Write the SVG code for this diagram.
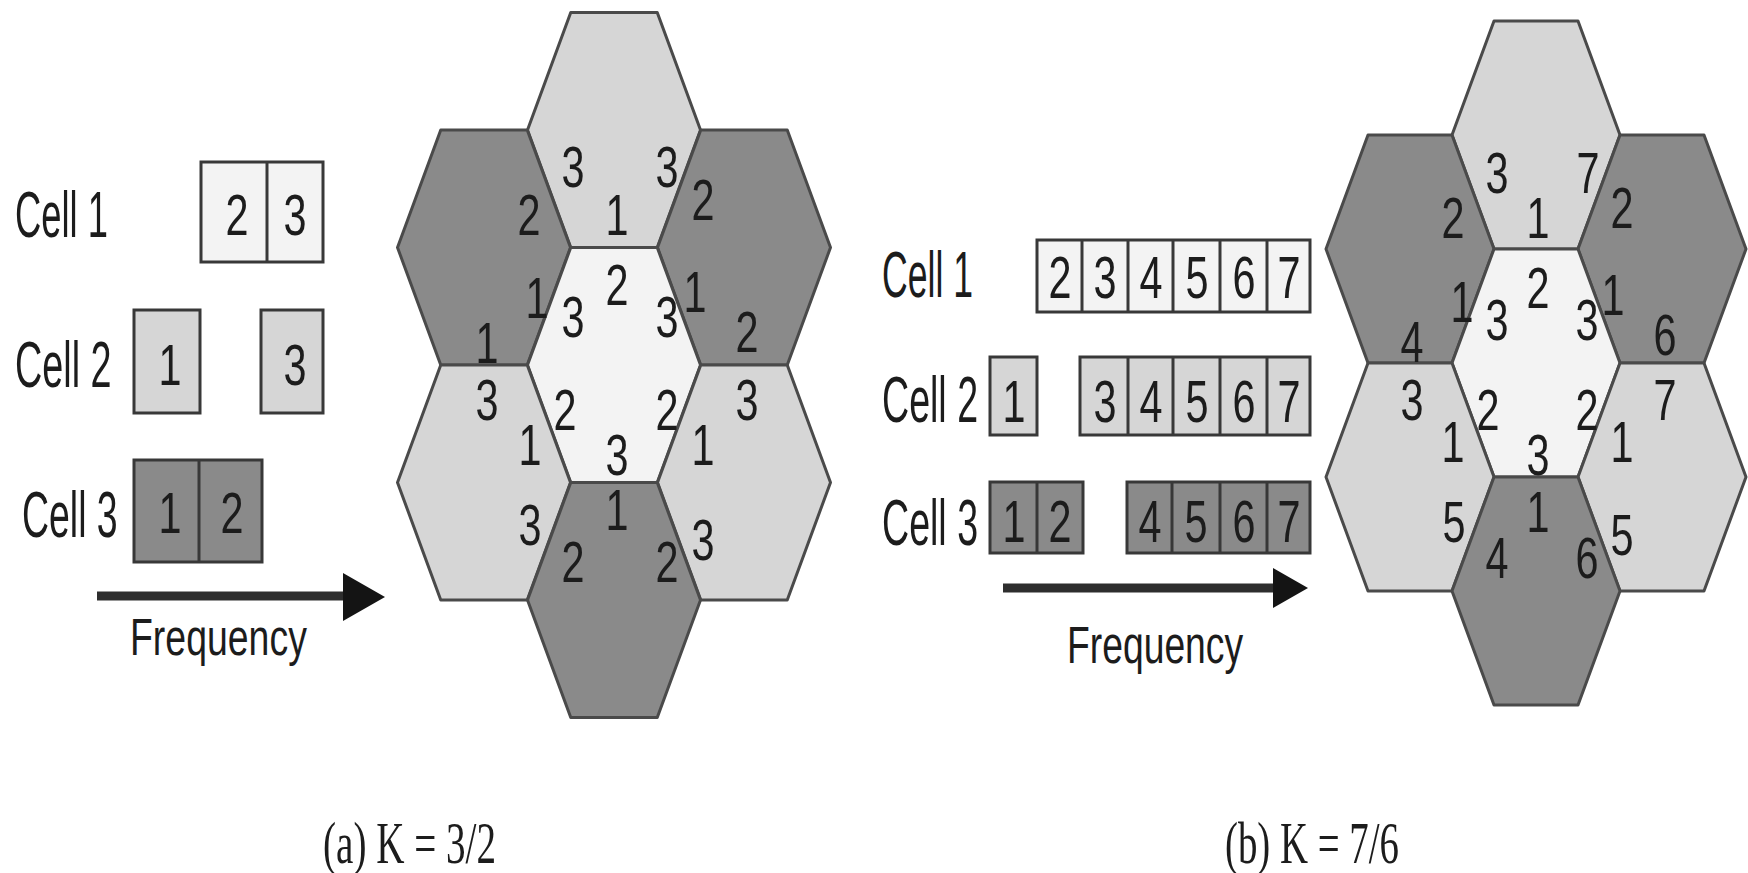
<svg xmlns="http://www.w3.org/2000/svg" xmlns:xlink="http://www.w3.org/1999/xlink" width="1748" height="873" viewBox="0 0 1748 873">
<style>
.t{font-family:"Liberation Sans",Arial,sans-serif;fill:#1c1c1c}
.d{font-size:58px;text-anchor:middle}
.bd{font-size:60px;text-anchor:middle}
.cl{font-size:64px}
.fq{font-size:52px}
.cap{font-family:"Liberation Serif","Times New Roman",serif;font-size:60px;fill:#1c1c1c}
.hx{stroke:#4a4a4a;stroke-width:3;stroke-linejoin:round}
.bx{stroke:#383838;stroke-width:3}
.c1{fill:#f3f3f3}
.c2{fill:#d6d6d6}
.c3{fill:#8a8a8a}
.ar{stroke:#2e2e2e;stroke-width:9}
.ah{fill:#141414}
</style>
<defs>
<polygon id="hexA" points="-86.5,0 -43.25,-117.5 43.25,-117.5 86.5,0 43.25,117.5 -43.25,117.5"/>
<polygon id="hexB" points="-84,0 -42,-114 42,-114 84,0 42,114 -42,114"/>
</defs>
<rect width="1748" height="873" fill="#ffffff"/>

<!-- (a) frequency allocation -->
<g id="a-cell1">
<text class="t cl" transform="translate(15,237) scale(0.568,1)">Cell 1</text>
<rect class="bx c1" x="201" y="162" width="122" height="100"/>
<line class="bx" x1="267" y1="162" x2="267" y2="262"/>
<text class="t d" transform="translate(237,235) scale(0.714,1)">2</text>
<text class="t d" transform="translate(295,235) scale(0.714,1)">3</text>
</g>
<g id="a-cell2">
<text class="t cl" transform="translate(15,387) scale(0.59,1)">Cell 2</text>
<rect class="bx c2" x="134" y="310" width="66" height="103"/>
<rect class="bx c2" x="261" y="310" width="62" height="103"/>
<text class="t d" transform="translate(170,385) scale(0.714,1)">1</text>
<text class="t d" transform="translate(295,385) scale(0.714,1)">3</text>
</g>
<g id="a-cell3">
<text class="t cl" transform="translate(22,537) scale(0.585,1)">Cell 3</text>
<rect class="bx c3" x="134" y="460" width="128" height="102"/>
<line class="bx" x1="199" y1="460" x2="199" y2="562"/>
<text class="t d" transform="translate(170,533) scale(0.714,1)">1</text>
<text class="t d" transform="translate(232,533) scale(0.714,1)">2</text>
</g>
<g id="a-freq">
<text class="t fq" transform="translate(130,655) scale(0.72,1)">Frequency</text>
</g>

<!-- (a) hex cluster -->
<g id="a-hex-top"><use xlink:href="#hexA" href="#hexA" x="614" y="130" class="hx c2"/></g>
<g id="a-hex-ul"><use xlink:href="#hexA" href="#hexA" x="484" y="247.5" class="hx c3"/></g>
<g id="a-hex-ur"><use xlink:href="#hexA" href="#hexA" x="744" y="247.5" class="hx c3"/></g>
<g id="a-hex-center"><use xlink:href="#hexA" href="#hexA" x="614" y="365" class="hx c1"/></g>
<g id="a-hex-ll"><use xlink:href="#hexA" href="#hexA" x="484" y="482.5" class="hx c2"/></g>
<g id="a-hex-lr"><use xlink:href="#hexA" href="#hexA" x="744" y="482.5" class="hx c2"/></g>
<g id="a-hex-bottom"><use xlink:href="#hexA" href="#hexA" x="614" y="600" class="hx c3"/></g>
<g id="a-hex-labels">
<text class="t d" transform="translate(573,187) scale(0.714,1)">3</text>
<text class="t d" transform="translate(667,187) scale(0.714,1)">3</text>
<text class="t d" transform="translate(617,235) scale(0.714,1)">1</text>
<text class="t d" transform="translate(529,235) scale(0.714,1)">2</text>
<text class="t d" transform="translate(537,318) scale(0.714,1)">1</text>
<text class="t d" transform="translate(487,363) scale(0.714,1)">1</text>
<text class="t d" transform="translate(703,220) scale(0.714,1)">2</text>
<text class="t d" transform="translate(695,312) scale(0.714,1)">1</text>
<text class="t d" transform="translate(747,352) scale(0.714,1)">2</text>
<text class="t d" transform="translate(617,305) scale(0.714,1)">2</text>
<text class="t d" transform="translate(573,337) scale(0.714,1)">3</text>
<text class="t d" transform="translate(667,337) scale(0.714,1)">3</text>
<text class="t d" transform="translate(565,430) scale(0.714,1)">2</text>
<text class="t d" transform="translate(667,430) scale(0.714,1)">2</text>
<text class="t d" transform="translate(617,475) scale(0.714,1)">3</text>
<text class="t d" transform="translate(487,420) scale(0.714,1)">3</text>
<text class="t d" transform="translate(530,465) scale(0.714,1)">1</text>
<text class="t d" transform="translate(530,545) scale(0.714,1)">3</text>
<text class="t d" transform="translate(747,420) scale(0.714,1)">3</text>
<text class="t d" transform="translate(703,465) scale(0.714,1)">1</text>
<text class="t d" transform="translate(703,560) scale(0.714,1)">3</text>
<text class="t d" transform="translate(617,530) scale(0.714,1)">1</text>
<text class="t d" transform="translate(573,582) scale(0.714,1)">2</text>
<text class="t d" transform="translate(667,582) scale(0.714,1)">2</text>
</g>

<!-- (b) frequency allocation -->
<g id="b-cell1">
<text class="t cl" transform="translate(882,297) scale(0.556,1)">Cell 1</text>
<rect class="bx c1" x="1037" y="240" width="273" height="72"/>
<line class="bx" x1="1082" y1="240" x2="1082" y2="312"/>
<line class="bx" x1="1128" y1="240" x2="1128" y2="312"/>
<line class="bx" x1="1173" y1="240" x2="1173" y2="312"/>
<line class="bx" x1="1220" y1="240" x2="1220" y2="312"/>
<line class="bx" x1="1267" y1="240" x2="1267" y2="312"/>
<text class="t bd" transform="translate(1060,298) scale(0.69,1)">2</text>
<text class="t bd" transform="translate(1105,298) scale(0.69,1)">3</text>
<text class="t bd" transform="translate(1151,298) scale(0.69,1)">4</text>
<text class="t bd" transform="translate(1197,298) scale(0.69,1)">5</text>
<text class="t bd" transform="translate(1244,298) scale(0.69,1)">6</text>
<text class="t bd" transform="translate(1289,298) scale(0.69,1)">7</text>
</g>
<g id="b-cell2">
<text class="t cl" transform="translate(882,422) scale(0.587,1)">Cell 2</text>
<rect class="bx c2" x="990" y="357" width="47" height="78"/>
<text class="t bd" transform="translate(1014,422) scale(0.69,1)">1</text>
<rect class="bx c2" x="1080" y="357" width="230" height="78"/>
<line class="bx" x1="1128" y1="357" x2="1128" y2="435"/>
<line class="bx" x1="1173" y1="357" x2="1173" y2="435"/>
<line class="bx" x1="1220" y1="357" x2="1220" y2="435"/>
<line class="bx" x1="1267" y1="357" x2="1267" y2="435"/>
<text class="t bd" transform="translate(1105,422) scale(0.69,1)">3</text>
<text class="t bd" transform="translate(1151,422) scale(0.69,1)">4</text>
<text class="t bd" transform="translate(1197,422) scale(0.69,1)">5</text>
<text class="t bd" transform="translate(1244,422) scale(0.69,1)">6</text>
<text class="t bd" transform="translate(1289,422) scale(0.69,1)">7</text>
</g>
<g id="b-cell3">
<text class="t cl" transform="translate(882,545) scale(0.587,1)">Cell 3</text>
<rect class="bx c3" x="990" y="482" width="93" height="71"/>
<line class="bx" x1="1037" y1="482" x2="1037" y2="553"/>
<text class="t bd" transform="translate(1014,542) scale(0.69,1)">1</text>
<text class="t bd" transform="translate(1060,542) scale(0.69,1)">2</text>
<rect class="bx c3" x="1127" y="482" width="183" height="71"/>
<line class="bx" x1="1172" y1="482" x2="1172" y2="553"/>
<line class="bx" x1="1220" y1="482" x2="1220" y2="553"/>
<line class="bx" x1="1267" y1="482" x2="1267" y2="553"/>
<text class="t bd" transform="translate(1150,542) scale(0.69,1)">4</text>
<text class="t bd" transform="translate(1196,542) scale(0.69,1)">5</text>
<text class="t bd" transform="translate(1244,542) scale(0.69,1)">6</text>
<text class="t bd" transform="translate(1289,542) scale(0.69,1)">7</text>
</g>
<g id="b-freq">
<text class="t fq" transform="translate(1067,663) scale(0.717,1)">Frequency</text>
</g>

<!-- (b) hex cluster -->
<g id="b-hex-top"><use xlink:href="#hexB" href="#hexB" x="1536" y="135" class="hx c2"/></g>
<g id="b-hex-ul"><use xlink:href="#hexB" href="#hexB" x="1410" y="249" class="hx c3"/></g>
<g id="b-hex-ur"><use xlink:href="#hexB" href="#hexB" x="1662" y="249" class="hx c3"/></g>
<g id="b-hex-center"><use xlink:href="#hexB" href="#hexB" x="1536" y="363" class="hx c1"/></g>
<g id="b-hex-ll"><use xlink:href="#hexB" href="#hexB" x="1410" y="477" class="hx c2"/></g>
<g id="b-hex-lr"><use xlink:href="#hexB" href="#hexB" x="1662" y="477" class="hx c2"/></g>
<g id="b-hex-bottom"><use xlink:href="#hexB" href="#hexB" x="1536" y="591" class="hx c3"/></g>
<g id="b-hex-labels">
<text class="t d" transform="translate(1497,193) scale(0.714,1)">3</text>
<text class="t d" transform="translate(1588,193) scale(0.714,1)">7</text>
<text class="t d" transform="translate(1538,238) scale(0.714,1)">1</text>
<text class="t d" transform="translate(1453,238) scale(0.714,1)">2</text>
<text class="t d" transform="translate(1462,322) scale(0.714,1)">1</text>
<text class="t d" transform="translate(1412,362) scale(0.714,1)">4</text>
<text class="t d" transform="translate(1622,228) scale(0.714,1)">2</text>
<text class="t d" transform="translate(1613,315) scale(0.714,1)">1</text>
<text class="t d" transform="translate(1665,355) scale(0.714,1)">6</text>
<text class="t d" transform="translate(1538,308) scale(0.714,1)">2</text>
<text class="t d" transform="translate(1497,340) scale(0.714,1)">3</text>
<text class="t d" transform="translate(1587,340) scale(0.714,1)">3</text>
<text class="t d" transform="translate(1488,430) scale(0.714,1)">2</text>
<text class="t d" transform="translate(1587,430) scale(0.714,1)">2</text>
<text class="t d" transform="translate(1538,475) scale(0.714,1)">3</text>
<text class="t d" transform="translate(1412,420) scale(0.714,1)">3</text>
<text class="t d" transform="translate(1453,462) scale(0.714,1)">1</text>
<text class="t d" transform="translate(1454,542) scale(0.714,1)">5</text>
<text class="t d" transform="translate(1665,420) scale(0.714,1)">7</text>
<text class="t d" transform="translate(1622,462) scale(0.714,1)">1</text>
<text class="t d" transform="translate(1622,555) scale(0.714,1)">5</text>
<text class="t d" transform="translate(1538,532) scale(0.714,1)">1</text>
<text class="t d" transform="translate(1497,578) scale(0.714,1)">4</text>
<text class="t d" transform="translate(1587,578) scale(0.714,1)">6</text>
</g>

<g id="connectors">
<line class="ar" x1="97" y1="596" x2="346" y2="596"/>
<polygon class="ah" points="343,573 385,597 343,621"/>
<line class="ar" x1="1003" y1="588" x2="1276" y2="588"/>
<polygon class="ah" points="1273,568 1308,588 1273,608"/>
</g>

<g id="captions">
<text class="cap" transform="translate(323,863) scale(0.652,1)">(a) K = 3/2</text>
<text class="cap" transform="translate(1225,863) scale(0.647,1)">(b) K = 7/6</text>
</g>
</svg>
